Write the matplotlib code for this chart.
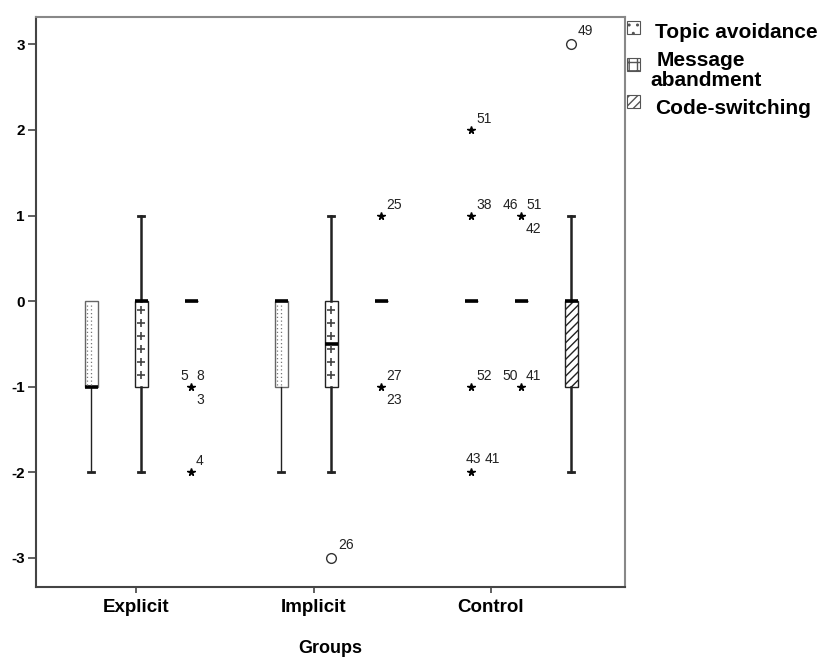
import numpy as np
import matplotlib
matplotlib.use("Agg")
import matplotlib.pyplot as plt
from matplotlib.patches import Rectangle

plt.rcParams['font.family'] = ['Liberation Sans', 'DejaVu Sans']
plt.rcParams['axes.unicode_minus'] = False

# ---------------- data ----------------
groups = ["Explicit", "Implicit", "Control"]
series = ["Topic avoidance", "Message abandment", "Code-switching"]
legend_labels = ["Topic avoidance", "Message\nabandment", "Code-switching"]

# box statistics per series, one value per group
q1 = {"Topic avoidance": [-1, -1, 0], "Message abandment": [-1, -1, 0], "Code-switching": [0, 0, -1]}
med = {"Topic avoidance": [-1, 0, 0], "Message abandment": [0, -0.5, 0], "Code-switching": [0, 0, 0]}
q3 = {"Topic avoidance": [0, 0, 0], "Message abandment": [0, 0, 0], "Code-switching": [0, 0, 0]}
wlo = {"Topic avoidance": [-2, -2, 0], "Message abandment": [-2, -2, 0], "Code-switching": [0, 0, -2]}
whi = {"Topic avoidance": [0, 0, 0], "Message abandment": [1, 1, 0], "Code-switching": [0, 0, 1]}

# outliers / extremes
out_group = [0, 0, 1, 1, 1, 2, 2, 2, 2, 2, 2, 2]
out_series = [2, 2, 2, 2, 1, 0, 0, 0, 0, 1, 1, 2]
out_value = [-1, -2, 1, -1, -3, 2, 1, -1, -2, 1, -1, 3]
out_kind = ["*", "*", "*", "*", "o", "*", "*", "*", "*", "*", "*", "o"]
out_labels = [["5", "8", "3"], ["4"], ["25"], ["27", "23"], ["26"], ["51"], ["38"],
              ["52"], ["43", "41"], ["46", "51", "42"], ["50", "41"], ["49"]]
out_label_pos = [["ul", "ur", "lr"], ["ur"], ["ur"], ["ur", "lr"], ["urc"], ["ur"], ["ur"],
                 ["ur"], ["uc1", "uc2"], ["ul", "ur", "lr"], ["ul", "ur"], ["urc"]]

yticks = [-3, -2, -1, 0, 1, 2, 3]

# ---------------- style ----------------
W, H = 823, 657
fig = plt.figure(figsize=(W / 100, H / 100), dpi=100)
ax = fig.add_axes([36 / W, (H - 587) / H, 589 / W, 570 / H])

offset = 0.263
bw = 0.068
capw = 0.032
dark = "#222222"

for si, s in enumerate(series):
    stats = []
    for gi in range(len(groups)):
        stats.append(dict(q1=q1[s][gi], med=med[s][gi], q3=q3[s][gi],
                          whislo=wlo[s][gi], whishi=whi[s][gi], fliers=[]))
    pos = np.arange(len(groups)) + (si - 1) * offset
    wlw = 1.0 if si == 0 else 1.8
    ecol = "#666666" if si == 0 else dark
    res = ax.bxp(stats, positions=pos, widths=bw, patch_artist=True, showfliers=False,
                 capwidths=capw, manage_ticks=False,
                 boxprops=dict(facecolor="white", edgecolor=ecol, linewidth=1.0),
                 medianprops=dict(color="black", linewidth=2.6, solid_capstyle="butt"),
                 whiskerprops=dict(color=dark, linewidth=wlw),
                 capprops=dict(color=dark, linewidth=2.0))
    for gi, st in enumerate(stats):
        box = res['boxes'][gi]
        if si == 2:
            box.set_hatch("////")
            box.set_edgecolor(dark)
        # hide caps on zero-length whiskers
        if st['whislo'] == st['q1']:
            res['caps'][2 * gi].set_visible(False)
        if st['whishi'] == st['q3']:
            res['caps'][2 * gi + 1].set_visible(False)
        if st['q3'] > st['q1']:
            x = pos[gi]
            if si == 0:
                for dx in (-0.02, 0.0):
                    ax.plot([x + dx, x + dx], [st['q1'] + 0.02, st['q3'] - 0.02],
                            ls=(0, (1, 2)), color="#777777", lw=0.9, zorder=3)
            elif si == 1:
                ys = np.arange(st['q3'] - 0.1, st['q1'], -0.152)
                ys = ys[np.abs(ys - st['med']) > 0.05]
                ax.plot(np.full(len(ys), x), ys, ls="none", marker="+", ms=6,
                        mew=1.2, color="#444444", zorder=3)

# outliers
offs = {"ur": (5, 11, "left"), "ul": (-3, 11, "right"), "lr": (5, -13, "left"),
        "urc": (7, 13, "left"), "uc1": (-5, 13, "left"), "uc2": (14, 13, "left")}
for g, s, v, k, labs, lpos in zip(out_group, out_series, out_value, out_kind,
                                   out_labels, out_label_pos):
    x = g + (s - 1) * offset
    if k == "*":
        ax.plot([x], [v], marker="*", ms=5.5, color="black", ls="none", zorder=4)
    else:
        ax.plot([x], [v], marker="o", ms=7, mfc="white", mec="#333333", mew=1.0,
                ls="none", zorder=4)
    for lab, p in zip(labs, lpos):
        dx, dy, ha = offs[p]
        ax.annotate(lab, (x, v), xytext=(dx, dy), textcoords="offset pixels",
                    ha=ha, va="center", fontsize=10, color="#222222")

ax.set_xlim(-0.553, 2.547)
ax.set_ylim(-3.34, 3.32)
ax.set_yticks(yticks)
ax.set_yticklabels([str(t) for t in yticks], fontsize=11, fontweight="bold")
ax.set_xticks(-0.026 + 0.934 * np.arange(len(groups)))
ax.set_xticklabels(groups, fontsize=13.5, fontweight="bold")
ax.tick_params(axis="y", length=6, width=1.2, color="#444444", pad=2)
ax.tick_params(axis="x", length=4, width=1.2, color="#444444", pad=5)
ax.set_xlabel("Groups", fontsize=13, fontweight="bold", labelpad=17)
for sp in ("left", "bottom"):
    ax.spines[sp].set_color("#444444")
    ax.spines[sp].set_linewidth(1.5)
for sp in ("top", "right"):
    ax.spines[sp].set_color("#888888")
    ax.spines[sp].set_linewidth(1.5)

# legend (manual, outside the axes)
patch_y = [21, 58, 95]
text_y = [33, 60, 108]
hatches = ["..", "++", "////"]
for lab, py, ty, h in zip(legend_labels, patch_y, text_y, hatches):
    fig.add_artist(Rectangle((627 / W, 1 - (py + 13) / H), 13 / W, 13 / H,
                             transform=fig.transFigure, facecolor="white",
                             edgecolor="#555555", hatch=h, linewidth=0.8))
    for li, line in enumerate(lab.split("\n")):
        lx = 655 if li == 0 else 650
        if "\n" in lab and li == 0:
            lx = 657
        fig.text(lx / W, 1 - (ty + 20 * li) / H, line, ha="left", va="center",
                 fontsize=15, fontweight="bold")

fig.savefig("out.png", dpi=100)
